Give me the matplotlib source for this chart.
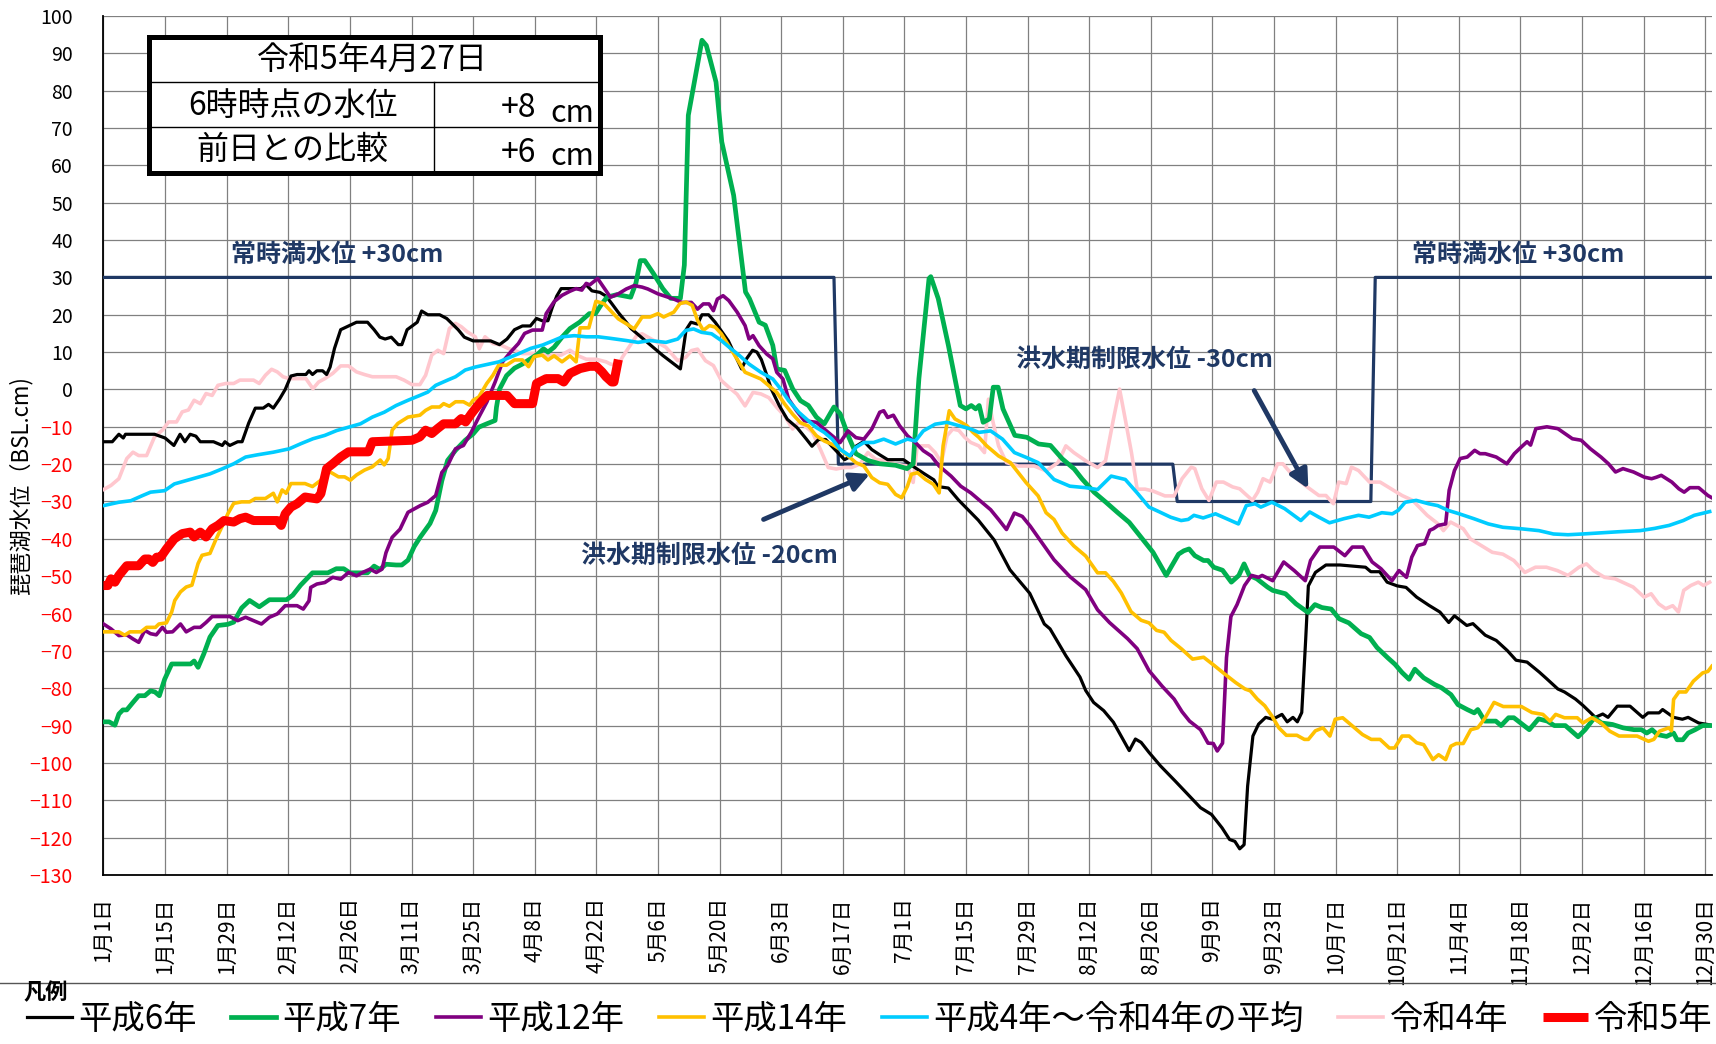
import numpy as np
import matplotlib
matplotlib.use('Agg')
import matplotlib.pyplot as plt
from matplotlib.lines import Line2D
from matplotlib.patches import Rectangle

plt.rcParams['font.family'] = ['Noto Sans CJK JP', 'DejaVu Sans']

# 日数 (1月1日 = 0) と水位 (cm)
h6_day = [0, 2, 3.5, 4.5, 5, 11.6, 14, 16, 17.4, 18.5, 19.7, 21, 22, 25, 27, 27.6, 28.7, 30.5, 31.5, 33, 34.5, 36.3, 37.5, 38.6, 40, 41.3, 42.6, 44, 46, 46.7, 47.5, 48.5, 49.8, 50.7, 51.5, 52.5, 53.9, 55.7, 57.5, 60, 61.5, 62.8, 64, 65.4, 67, 67.8, 69, 71.3, 72.3, 73.7, 76.4, 78, 79.3, 80.6, 82, 84, 88, 90, 91.7, 93.4, 95.2, 97, 98.4, 99.7, 101, 102, 103, 104, 107, 108.5, 109.7, 111, 112.8, 114.2, 115.5, 117, 118.8, 119.9, 123.5, 127.1, 131.1, 132.4, 133.5, 135, 136, 137.5, 139, 142, 145, 146, 147.5, 148.5, 149.5, 150.5, 151.8, 153.6, 155.4, 157.6, 159.8, 161, 162.5, 164.1, 165.5, 168.4, 169.8, 171, 172.8, 174.6, 176.4, 178.2, 181.8, 184, 186.3, 188.7, 189.6, 192, 194.3, 198.8, 202.4, 206, 210.5, 213.8, 215.1, 218.7, 221.9, 223.2, 225, 227.3, 229.5, 233.1, 234.5, 235.8, 237.6, 240.2, 243.5, 246.8, 249.3, 251.8, 254.2, 255.9, 257.1, 258.2, 259.2, 260, 261.2, 262.5, 264.1, 265.7, 267.8, 269, 270.3, 271.3, 272.3, 273.2, 273.8, 275.4, 277.8, 281, 286.8, 288, 290, 291.7, 294, 296, 298.4, 301.2, 303.7, 305.7, 307, 309.8, 311.2, 314, 316.5, 319, 321, 323.5, 326.3, 328, 330.5, 332, 334.5, 336.2, 337.8, 339, 340.7, 341.9, 344, 346.9, 349.8, 351, 353.5, 354.3, 356.8, 358.8, 360.1, 362.5, 365]
h6_val = [-14, -14, -12, -13, -12, -12, -13, -15, -12, -14, -12, -12.5, -14, -14, -15, -14, -15, -14, -14, -9, -5, -5, -4, -5, -2.6, 0, 3.6, 4, 4, 5, 4, 5, 5, 4, 6, 11, 16, 17, 18, 18, 16, 14, 13.5, 14, 12, 12, 16, 18, 21, 20, 20, 19, 17.5, 16, 14, 13, 13, 12, 13.5, 16, 17, 17, 19, 18.4, 18.4, 22, 25, 27, 27, 27, 28, 26.4, 26, 25, 23, 20.6, 18, 16.3, 12.7, 9.1, 5.5, 16, 18, 17.5, 20, 20, 18, 13, 5.5, 8, 10.5, 10, 8, 4.6, 0, -4.4, -8, -10.2, -13.4, -15.2, -13.4, -13.4, -15.2, -18.8, -17.9, -15.2, -13.9, -16.1, -17.5, -18.8, -18.8, -20.6, -22.4, -24.2, -26, -26.4, -29.6, -35, -40.3, -48.3, -54.6, -62.8, -64.1, -71.3, -77, -80.6, -83.8, -86, -89.1, -96.7, -93.6, -94.5, -97.2, -100.8, -104.8, -108.9, -112, -113.8, -117.4, -120.5, -121, -123, -121.9, -106.2, -92.8, -89.6, -87.8, -88.3, -87, -89, -87.8, -89, -86.5, -66.8, -52.6, -49, -47, -47, -47.6, -48.8, -48.8, -51.6, -52.6, -53, -55.6, -57.8, -59.6, -62.4, -60.6, -63.2, -62.7, -65.8, -67.2, -69.9, -72.5, -73, -75.7, -77.5, -80.2, -81, -82.9, -84.6, -86.4, -87.8, -86.9, -87.8, -84.8, -84.8, -87.8, -86.6, -86.6, -85.7, -87.8, -88.3, -87.8, -89.3, -89.8]

h7_day = [0, 1.3, 2.6, 3.5, 4.4, 5.3, 6.7, 8, 9.4, 10.7, 11.7, 12.7, 13.9, 15.5, 19.8, 20.6, 21.5, 22.8, 24.2, 26, 28.2, 29.6, 31.4, 33.2, 35.4, 37.7, 41.6, 43, 44.8, 47.5, 51, 52.9, 54.6, 56, 60, 61.5, 62.8, 64.2, 66.5, 67.8, 69.2, 70.6, 72, 74.2, 75.5, 76.9, 78.2, 80, 82.2, 84, 85.3, 87.1, 89, 89.3, 90, 91.6, 93.4, 95.2, 97, 98.7, 100, 101, 102.4, 104.2, 106, 108.2, 110.4, 111.8, 113, 114.4, 116.7, 119.8, 121, 122, 123, 125, 127.1, 128.9, 131.1, 132, 132.9, 136, 137, 137.8, 139.2, 140.5, 143.2, 145.9, 146.8, 149, 150.4, 152.1, 153, 154.8, 156.6, 158.4, 160.2, 162, 163.8, 166, 167.4, 169.2, 171, 173.7, 176.4, 180, 182.6, 184, 185.3, 187.6, 188, 189.7, 192, 194.7, 196, 197.2, 198.2, 199, 199.9, 201.3, 202.2, 203.3, 204.4, 207.1, 209.8, 212.5, 215.2, 217.9, 220.6, 222.4, 225.1, 227.8, 230.4, 233.1, 235.8, 238.5, 241.5, 244.3, 245.5, 246.7, 248, 250, 251, 252.3, 254.3, 256.3, 258, 259.2, 260.4, 262.1, 264.5, 265.7, 268.6, 271, 273.7, 275.3, 276.9, 279, 280.8, 283, 285.8, 287.7, 289.4, 291.8, 293.5, 295.1, 296.7, 298, 300, 302.5, 304.1, 306.2, 307.8, 309.9, 311.5, 312.3, 313.9, 316.4, 317.6, 319.3, 320.5, 324, 326.1, 328.1, 329.7, 332.2, 335.1, 336.7, 338.8, 340.4, 342.9, 345.3, 347.8, 349.5, 350.7, 351.9, 353.1, 355.2, 356.8, 357.6, 358.9, 360.1, 361.7, 363.4, 365.5]
h7_val = [-89, -89, -89.9, -86.9, -85.8, -85.8, -83.8, -82, -82, -80.7, -81, -82, -77.6, -73.5, -73.5, -72.7, -74.4, -70.8, -66.3, -63.2, -62.9, -62.3, -58.5, -56.5, -58.2, -56.3, -56.3, -55.1, -52.4, -49.1, -49.1, -48, -48, -49.1, -49.1, -47.3, -48.2, -46.8, -47, -47, -45.7, -42.1, -39.5, -35.9, -32.4, -24.4, -19, -16.3, -13.6, -11.9, -10.1, -9.2, -8.3, -4.8, 0.1, 3.7, 5.7, 6.8, 8.2, 9.5, 10.9, 10, 11.3, 14, 16.3, 18, 20.3, 20.3, 22.5, 24.7, 25.4, 24.7, 28.5, 34.5, 34.5, 31, 27, 24.4, 24.4, 33.3, 73.4, 93.5, 92.1, 88.6, 82.3, 66.3, 52, 26.1, 24.3, 18, 17.2, 11.8, 5.5, 5.1, 0.2, -3, -4.3, -7.4, -9.2, -4.7, -6.5, -12.3, -17.2, -19, -19.9, -20.3, -21.2, -19.9, 2.9, 29.7, 30.2, 24.3, 11.8, -4.3, -5.2, -4.3, -5.2, -4.3, -8.8, -7.9, 0.6, 0.6, -5.2, -12.3, -12.8, -14.6, -15, -18.6, -21.3, -24, -27.5, -30.2, -32.9, -35.6, -39.6, -43.6, -49.8, -44.1, -43.2, -42.7, -44.5, -45.8, -45.8, -47.6, -48.4, -51.6, -49.8, -46.7, -49.8, -50.7, -52.9, -53.8, -54.7, -57.4, -59.7, -57.6, -58.4, -58.8, -61.4, -62.5, -65.4, -66.4, -69.1, -71.8, -73.6, -75.8, -77.6, -74.9, -77.2, -79, -79.9, -81.7, -84.4, -85.7, -86.6, -85.7, -88.8, -88.8, -90, -87.9, -87.9, -91.1, -88.2, -88.8, -90, -90, -93, -91.1, -87.9, -89.3, -89.7, -90.6, -91.1, -91.1, -92, -91.1, -92.4, -92.9, -92, -93.8, -93.8, -92, -91.1, -90, -90]

h12_day = [0, 1.7, 3.5, 5.3, 6.7, 8, 9.4, 10.7, 12, 13.4, 14.3, 15.7, 17.5, 18.8, 20.6, 22, 23.3, 24.7, 28.7, 30.5, 32.3, 34.1, 35.9, 37.7, 39.5, 41.3, 44, 45.4, 46.7, 47.1, 48.5, 50.3, 52.1, 53.9, 55.7, 57.5, 58.9, 60.6, 62, 63.3, 64.2, 65.6, 67.4, 69.2, 72, 73.7, 75.5, 76.9, 78.2, 80, 81.8, 83.6, 85.3, 87.1, 89, 90.7, 92.5, 94.3, 95.7, 97.5, 99.7, 100.6, 102.4, 104.2, 106, 107.4, 108.7, 109.7, 110.5, 112.3, 113.4, 115.2, 117, 118.8, 120.6, 122.4, 123.7, 126, 127.3, 129.6, 131.4, 133.6, 135, 136.3, 137.6, 138.6, 139.5, 140.8, 142.1, 144, 145.8, 146.7, 147.6, 149, 150.7, 152.1, 153, 154.4, 155.7, 157.5, 159.3, 162, 164.7, 167.4, 169.2, 171, 172.8, 174.6, 176.4, 177.3, 178.2, 179.5, 180.9, 182.7, 184.5, 186.3, 188.1, 189.9, 192.6, 194.8, 197.1, 198.9, 201.6, 203.4, 205.2, 207, 208.8, 210.6, 213.3, 216, 219.6, 223.2, 225.9, 228.6, 232.7, 234.9, 237.6, 240.6, 243.3, 245.1, 246.8, 249.3, 251, 252.2, 253.1, 254.3, 255.2, 256.2, 257.6, 259.3, 260.9, 262.5, 263.3, 265.7, 268.2, 270.6, 273.1, 274.3, 276.4, 279.6, 282.1, 283.8, 286.2, 288.3, 290.3, 292.8, 294.4, 296.1, 297.3, 298.6, 300.2, 301.4, 302.2, 303.3, 305, 305.8, 307, 308.3, 309.9, 311.6, 312.8, 314, 316.5, 318.9, 320.6, 322.2, 323.5, 324.3, 325.5, 328, 330.5, 332.1, 333.8, 335.8, 337.9, 340.3, 342, 343.6, 345.3, 347.7, 350.2, 351.8, 352.9, 354, 356.4, 358, 359.2, 360.5, 362.5, 364.6, 365.5]
h12_val = [-62.8, -64.1, -65.9, -65.7, -66.8, -67.7, -64.5, -65.4, -65.7, -63.7, -65, -64.9, -62.8, -64.9, -63.7, -63.7, -62.4, -60.8, -60.8, -61.9, -61, -61.9, -62.8, -61, -60.1, -57.9, -57.9, -58.8, -56.6, -53, -52.1, -51.7, -50.3, -50.8, -49, -49.9, -49, -48.1, -49, -48.1, -43.7, -39.6, -37.4, -32.9, -31.1, -30.2, -28.4, -22.2, -20.4, -15.9, -15, -11.4, -7.4, -3.4, 2, 7.4, 10, 12.3, 15, 15.9, 15.9, 20.3, 23.5, 25.2, 26.3, 27, 26.6, 28.4, 28, 29.7, 27.8, 24.7, 25.6, 26.9, 27.8, 27.4, 26.9, 25.6, 25.1, 24.2, 23.3, 23.3, 21.5, 22.9, 22.9, 21.1, 24.2, 25.1, 23.8, 20.7, 17.1, 13.5, 14.4, 11.7, 9.5, 8.2, 4.6, 2.8, -2.6, -5.7, -8.4, -8.8, -11.5, -14.2, -11.1, -12.9, -13.3, -10.6, -6.1, -5.7, -7.5, -6.9, -9.7, -12.4, -14.2, -16.4, -17.8, -20.5, -23.2, -25.9, -27.7, -29.5, -32.2, -34.8, -37.5, -33.1, -34, -36.6, -41.1, -45.6, -50.1, -53.6, -59, -62.4, -66.7, -69.4, -75.3, -79.5, -82.9, -86.3, -88.8, -91.1, -94.7, -94.8, -96.8, -94.7, -71.8, -60.8, -57.6, -52.5, -49.8, -50.3, -49.8, -51.2, -46.2, -48.5, -51.2, -45.8, -42.2, -42.2, -44.5, -42.2, -42.2, -46.2, -48, -51.2, -48.5, -50.3, -44.9, -41.8, -41.3, -37.7, -37.3, -36.4, -36, -27, -21.7, -18.5, -18.1, -16.3, -17.2, -17.2, -18.1, -19.9, -17.2, -15.4, -14, -14.9, -10.5, -10, -10.5, -11.8, -13.2, -13.6, -15.9, -18.1, -19.9, -22.1, -21.2, -22.1, -23.5, -23.9, -23.5, -23, -24.8, -26.6, -27.5, -26.3, -26.3, -28.4, -29]

h14_day = [0, 3.5, 4.8, 6, 8.5, 9.8, 11.8, 12.6, 14.3, 15.5, 16.2, 17.5, 18.8, 20.1, 21.5, 22.4, 24.2, 25.5, 26.9, 28.3, 29.6, 31.4, 33.2, 34.5, 36.8, 38.6, 39.5, 40.6, 41.5, 42.6, 45.8, 47.5, 49.4, 50.7, 52.1, 53.4, 54.8, 56.1, 57.5, 59.3, 61.1, 62.9, 63.8, 64.7, 65.6, 66.9, 69.2, 71.9, 73.2, 74.6, 76.4, 77.3, 78.6, 80, 81.8, 83.2, 84, 85.3, 87.1, 88.5, 89.8, 91.6, 93.4, 95.2, 96.6, 97.9, 99.7, 101, 102.4, 104.2, 106, 107.4, 108.3, 110.3, 111.9, 113.7, 115.3, 117, 118.8, 120.6, 122.4, 124.2, 126, 127.3, 129.6, 131, 132.4, 133.8, 135, 136.3, 137.7, 139, 140.4, 142.1, 144, 145.8, 147.6, 149.4, 151.2, 153, 154.8, 156.6, 158.4, 160.2, 162, 163.8, 165.6, 167.4, 169.2, 171, 172.8, 174.6, 176.4, 178.2, 180, 181.4, 182.7, 183.6, 185, 186.8, 188.6, 189.9, 190.8, 192.2, 193.5, 194.9, 196.2, 197.6, 198.9, 200.7, 203.4, 206.1, 207.9, 209.7, 212.4, 214.2, 216, 217.8, 220.5, 223.2, 225.9, 227.7, 229.5, 231.3, 233.5, 235.8, 237.6, 239.3, 241, 242.6, 245, 247.5, 250, 252.4, 254.8, 257.3, 259.4, 260.6, 262.2, 263.9, 265.5, 267.1, 268.8, 271.2, 272.9, 273.8, 275.4, 277.1, 278.7, 279.9, 281.6, 283.6, 286.1, 288.1, 290.1, 292.2, 293.4, 295.1, 296.7, 298.4, 300, 302.1, 303.4, 305, 306.2, 307.4, 309, 310.7, 312.3, 314, 316, 318.1, 322.2, 324.6, 327.1, 328.7, 330, 332, 334.9, 336.2, 338.2, 340.3, 342.3, 344.4, 346.9, 348.5, 351.1, 352.3, 353.6, 355.7, 356.3, 356.8, 358, 359.6, 361.3, 363.4, 364.6, 365.5]
h14_val = [-64.9, -64.9, -65.8, -64.9, -64.9, -63.7, -63.7, -62.8, -62.5, -59.6, -56.5, -54.2, -52.9, -52.4, -46.6, -44.4, -43.9, -40.3, -36.8, -33.2, -30.5, -30.1, -30.1, -29.2, -29.2, -27.8, -30.1, -26.9, -27.8, -25.2, -25.2, -26, -24.3, -21.6, -22.5, -23.4, -23.4, -24.3, -22.9, -21.6, -20.7, -18.9, -20.2, -18.5, -10.9, -9.1, -7.4, -6.9, -5.6, -4.7, -4.7, -3.8, -4.5, -3.3, -3.3, -4.2, -2.9, -2, 1.6, 3.8, 6.5, 6.5, 7.9, 7.9, 6.1, 8.8, 9.2, 7.9, 9, 7.4, 9, 7.4, 16.5, 16.5, 23.6, 23, 21, 18.9, 17.6, 16.2, 19.4, 19.4, 20.3, 19.4, 20.7, 23, 23.4, 22.5, 18.5, 15.8, 17.1, 16.7, 14.9, 11.7, 8.1, 4.6, 3.7, 2.8, 1, -0.8, -3.9, -6.6, -8.9, -9.8, -12.4, -13.8, -14.7, -16, -17.8, -19.6, -20.5, -23.6, -25, -25.4, -28.1, -29, -25.9, -22.7, -22.3, -24.1, -25.4, -27.7, -15.1, -5.7, -7.9, -8.8, -9.7, -11.5, -12.8, -15.1, -17.8, -19.6, -22.3, -25, -28.5, -33, -34.8, -38.4, -41.9, -44.6, -49.1, -49.1, -51.4, -54.5, -59.5, -61.8, -62.5, -64.5, -65, -67.2, -69.5, -72.2, -71.7, -73.9, -76.2, -78.5, -80.2, -80.7, -82.9, -84.7, -87.4, -90.6, -92.6, -92.6, -93.7, -93.7, -91.4, -90.6, -92.8, -88.3, -87.9, -89.9, -92.4, -93.7, -93.7, -96, -96, -92.8, -92.8, -94.6, -95.1, -99.1, -97.8, -99.1, -95.5, -94.8, -94.8, -91.1, -90.6, -87.9, -83.8, -84.9, -84.9, -86.5, -87, -88.8, -87, -87.9, -87.9, -89.3, -87.9, -89.3, -91.5, -92.8, -92.8, -92.8, -94.2, -93.7, -91.5, -90.6, -91.4, -83, -81, -81, -78.1, -75.9, -75.5, -74.1]

avg_day = [0, 3.5, 6.2, 8.9, 10.7, 13.9, 16.1, 18.8, 21.5, 24.2, 26.9, 29.6, 32.3, 35, 38.6, 42.2, 44.9, 47.6, 50.3, 53, 55.7, 58.4, 61.1, 63.8, 66.5, 69.2, 71.9, 73.7, 75.5, 78.2, 80, 82.2, 84.5, 87.2, 89.9, 91.7, 94.4, 97.1, 99.8, 102.5, 104.3, 107, 109.7, 112.4, 115.1, 118.8, 121.5, 124.2, 127.8, 130.5, 132.3, 134.1, 135.9, 138.2, 140.4, 142.2, 144.5, 146.7, 149.4, 152.1, 153.9, 155.7, 158, 160.2, 162, 163.8, 165.6, 167.4, 169.6, 171, 172.8, 175, 177.3, 180, 182.7, 184.5, 186.3, 189, 191.7, 194.4, 197.1, 198.9, 201.6, 204.3, 207, 209.7, 212.4, 216, 219.6, 223.2, 225.9, 229, 232.2, 234.9, 237.6, 240, 242.5, 244.9, 246.5, 247.8, 249.9, 252.7, 255.2, 257.9, 259.7, 261.7, 263, 265.5, 268.4, 272.1, 274.1, 276.2, 278.6, 281.9, 285.2, 287.6, 290.5, 292.9, 294.2, 295.8, 298.3, 301.1, 303.2, 305.6, 308.1, 311.4, 314.7, 318, 322.1, 326.2, 329.5, 332.8, 336.1, 340.2, 344.3, 349.2, 352.5, 355.8, 359, 361.5, 365]
avg_val = [-31.1, -30.2, -29.8, -28.4, -27.5, -27.1, -25.3, -24.4, -23.5, -22.6, -21.3, -19.9, -18.1, -17.5, -16.8, -15.9, -14.5, -13.2, -12.3, -11, -10.1, -9.2, -7.4, -6.1, -4.3, -2.9, -1.6, -0.7, 1.1, 2.5, 3.4, 5.2, 6, 6.7, 7.4, 8.3, 9.6, 11, 11.9, 13.2, 14.1, 14.4, 14.1, 14.1, 13.7, 13.1, 12.6, 13.1, 12.6, 13.5, 15.8, 16.2, 15.3, 14.9, 13.1, 11.3, 9.1, 6.8, 4.6, 2.8, 0.1, -3, -6.1, -8.4, -10.2, -11.5, -13.3, -16, -17.8, -15.5, -14.2, -14.2, -13.3, -14.6, -13.3, -13.8, -11.1, -9.3, -8.8, -9.7, -10.6, -11.5, -11.1, -13.3, -16.9, -18.2, -19.6, -24.1, -25.9, -26.3, -26.8, -23.2, -24.1, -27.7, -31.5, -32.8, -34.2, -35.1, -34.8, -33.7, -34.4, -33.3, -34.6, -36, -31.1, -30.6, -31.5, -30.2, -31.9, -35.1, -32.8, -34.2, -35.7, -34.6, -33.7, -34.2, -33, -33.3, -32.4, -30.2, -29.7, -30.6, -31.1, -32.4, -33.3, -34.6, -36, -36.9, -37.3, -37.8, -38.7, -38.9, -38.7, -38.4, -38.1, -37.8, -37.2, -36.4, -35.1, -33.7, -32.7]

r4_day = [0, 1.7, 3.5, 5.3, 6.7, 8, 9.8, 11.6, 13.4, 14.8, 16.6, 17.9, 19.3, 20.6, 22, 23.3, 24.7, 26, 27.8, 29.6, 31, 34.1, 35.4, 36.8, 38.2, 39.5, 40.8, 42.2, 46, 47.6, 48.9, 50.3, 52.1, 53.9, 55.7, 57.5, 59.3, 61.1, 66.5, 68.3, 70.1, 71.9, 73.2, 74.6, 76, 77.3, 78.6, 80, 81.3, 82.7, 84.5, 85.4, 86.7, 88.5, 90.3, 92.1, 93.4, 95.2, 97.5, 99.7, 104, 106, 107.9, 109.7, 111.9, 114.2, 115.2, 117, 117.9, 119.7, 121.2, 122.4, 125.1, 127.8, 130.5, 132.3, 133.6, 135, 136.8, 138.6, 140.4, 142.2, 144, 145.8, 147.6, 149.4, 151.2, 153, 154.8, 156.6, 158, 159.3, 161.1, 162.9, 164.7, 166.5, 168.3, 170, 171.9, 173.7, 175.5, 177.7, 180, 182.7, 184, 184.9, 187.5, 189, 190.4, 191.7, 193, 194.4, 195.7, 197.1, 198.9, 200.2, 201.1, 202, 203.4, 205.2, 207.9, 211.5, 214.2, 216.9, 218.7, 220.5, 223.2, 225.9, 227.7, 229.5, 230.9, 232.2, 233.6, 234.9, 236.7, 238.5, 241.2, 243.3, 245.1, 247.2, 248, 249.6, 251.2, 252.9, 254.5, 256.6, 258.2, 259.4, 261.1, 262.3, 263.5, 265.1, 266.8, 268, 269.6, 272.1, 274.1, 276.2, 277.8, 279.5, 280.7, 282.4, 283.6, 285.2, 287.7, 290.1, 292.6, 295.1, 297.5, 300.8, 303.3, 304.5, 306.1, 309, 310.6, 313.1, 315.6, 318, 320.5, 323, 325.4, 327.9, 330.4, 332.8, 335.3, 337, 338.6, 341.1, 343.5, 345.2, 347.6, 350.1, 351.7, 353.4, 355, 356.6, 357.9, 359.1, 360.7, 362.4, 363.6, 365]
r4_val = [-26.8, -25.7, -23.9, -18.5, -16.8, -17.7, -17.7, -12.7, -10.9, -8.7, -8.7, -6, -5.5, -2.9, -3.8, -1.1, -1.6, 1.1, 1.6, 1.6, 2.5, 2.5, 1.6, 3.8, 5.4, 4.7, 3.4, 2.9, 2.9, 0.2, 2, 2.9, 4.3, 6.3, 6.3, 4.7, 4, 3.4, 3.4, 2.5, 1.3, 1.3, 3.8, 9.2, 10.5, 9.6, 16.3, 17.7, 16.8, 15.4, 14.1, 10.9, 14.1, 12.3, 11.9, 10.9, 10.5, 9.6, 9.6, 9.2, 9.2, 10.5, 9, 8.1, 8.1, 7.4, 6.8, 6.4, 8.6, 11.8, 14.5, 14.9, 13.1, 11.3, 7.7, 8.6, 10.4, 10.8, 7.7, 6.4, 2.4, 0.5, -1.3, -4.4, -0.8, -1.2, -2.2, -4.8, -7.1, -10.6, -8.8, -9.7, -11.5, -16, -20.9, -21.3, -20.9, -20.9, -20, -16.9, -18.7, -19.1, -20, -20.5, -24.9, -15.1, -15.1, -16.9, -19.6, -12.4, -10.6, -11, -12.8, -14.2, -15.1, -16.9, -2.6, -8, -15.1, -19.6, -20.5, -20.5, -21.8, -19.6, -15.1, -16.9, -19.1, -20.9, -19.1, -8, 0.1, -8, -16.9, -26.7, -26.7, -27.2, -28.5, -28.5, -23.9, -20.8, -21.2, -26.6, -29.7, -24.8, -24.8, -26.1, -26.6, -27.9, -29.7, -27.5, -23.9, -24.8, -19.9, -19.9, -22.1, -24.8, -26.6, -28.4, -28.4, -30.6, -24.8, -25.2, -20.8, -21.7, -24.8, -24.8, -26.6, -28.4, -29.7, -33.7, -36, -37.8, -35.5, -37.3, -40, -41.8, -43.6, -44.1, -45.8, -49, -47.6, -47.6, -48.5, -49.8, -47.6, -46.7, -48.5, -50.3, -50.7, -51.6, -52.9, -55.6, -54.7, -57.4, -58.7, -57.9, -59.6, -53.8, -52.5, -51.6, -52.5, -51.6]

r5_day = [0, 1, 1.7, 2.6, 3.5, 5.3, 8, 9.4, 10.3, 11.2, 12.1, 13, 14.3, 16.1, 17.9, 19.7, 20.6, 22, 23.3, 24.7, 26, 27.4, 29.6, 31, 32.3, 34.1, 39.5, 40.4, 41.3, 42.6, 44, 45.8, 48.5, 49.4, 50.7, 52.1, 53.9, 55.7, 60.2, 61.1, 70.1, 71.9, 73.2, 74.6, 75.9, 77.3, 80, 81.3, 82.3, 83.6, 85.4, 87.2, 91.7, 93.4, 97.5, 98.4, 100.6, 103.3, 104.6, 106, 108.3, 110.5, 112, 113.3, 114.2, 115.5, 116, 117]
r5_val = [-52.5, -52.5, -50.7, -51.6, -49.8, -47.2, -47.2, -45.4, -45.4, -46.3, -44.9, -44.9, -42.7, -40, -38.6, -38.2, -39.5, -38.2, -39.5, -37.3, -36.4, -35.1, -35.5, -34.6, -34.2, -35.1, -35.1, -36.4, -33.3, -31.5, -30.6, -28.8, -29.3, -27.9, -21.2, -19.9, -18.1, -16.7, -16.7, -14, -13.6, -12.7, -10.9, -11.8, -10.5, -9.2, -9.2, -7.8, -8.7, -6.5, -3.8, -1.6, -1.6, -3.8, -3.8, 1.6, 2.9, 2.9, 2, 4.3, 5.6, 6.2, 6.2, 4.7, 3.4, 2, 2, 8]

# 常時満水位・洪水期制限水位
lim_day = [0, 166, 167, 243, 244, 288, 289, 365.5]
lim_val = [30, 30, -20, -20, -30, -30, 30, 30]

tick_labels = ['1月1日', '1月15日', '1月29日', '2月12日', '2月26日', '3月11日', '3月25日',
               '4月8日', '4月22日', '5月6日', '5月20日', '6月3日', '6月17日', '7月1日',
               '7月15日', '7月29日', '8月12日', '8月26日', '9月9日', '9月23日', '10月7日',
               '10月21日', '11月4日', '11月18日', '12月2日', '12月16日', '12月30日']

navy = '#1F3864'

fig = plt.figure(figsize=(17.16, 10.44), dpi=100)
ax = fig.add_axes([0.0603, 0.1619, 0.9373, 0.8228])

ax.plot(lim_day, lim_val, color=navy, lw=2.3, zorder=3)
ax.plot(h6_day, h6_val, color='black', lw=2.3, label='平成6年', zorder=4)
ax.plot(h7_day, h7_val, color='#00B050', lw=3.4, label='平成7年', zorder=4)
ax.plot(h12_day, h12_val, color='#800080', lw=2.6, label='平成12年', zorder=4)
ax.plot(h14_day, h14_val, color='#FFC000', lw=2.6, label='平成14年', zorder=4)
ax.plot(avg_day, avg_val, color='#00CCFF', lw=2.6, label='平成4年～令和4年の平均', zorder=4)
ax.plot(r4_day, r4_val, color='#FFC7CE', lw=2.6, label='令和4年', zorder=3.5)
ax.plot(r5_day, r5_val, color='#FF0000', lw=6.5, label='令和5年', zorder=5,
        solid_capstyle='butt')

ax.set_xlim(0, 365.5)
ax.set_ylim(-130, 100)
ax.set_xticks(np.arange(0, 365, 14))
ax.set_xticklabels(tick_labels, rotation=90, fontsize=15, va='top')
ax.set_yticks(np.arange(-130, 101, 10))
ax.tick_params(axis='both', length=0)
ax.tick_params(axis='y', labelsize=14, pad=22)
ax.tick_params(axis='x', pad=16)
for t, v in zip(ax.get_yticklabels(), np.arange(-130, 101, 10)):
    t.set_color('red' if v < 0 else 'black')

ax.grid(True, color='#808080', lw=0.9, zorder=0)
ax.set_axisbelow(True)
ax.spines['top'].set_visible(False)
ax.spines['right'].set_visible(False)
ax.spines['left'].set_linewidth(1.3)
ax.spines['bottom'].set_linewidth(1.3)

ax.set_ylabel('琵琶湖水位（BSL.cm)', fontsize=16)
ax.yaxis.set_label_coords(-0.044, 0.454)

# 注記
fs_note = 18
ax.text(53, 36, '常時満水位 +30cm', color=navy, fontsize=fs_note, fontweight='bold',
        ha='center', va='center')
ax.text(321.4, 36, '常時満水位 +30cm', color=navy, fontsize=fs_note, fontweight='bold',
        ha='center', va='center')
ax.text(236.5, 7.8, '洪水期制限水位 -30cm', color=navy, fontsize=fs_note, fontweight='bold',
        ha='center', va='center')
ax.text(137.8, -44.7, '洪水期制限水位 -20cm', color=navy, fontsize=fs_note, fontweight='bold',
        ha='center', va='center')
arrow = dict(arrowstyle='-|>', color=navy, lw=3.5, mutation_scale=28, shrinkA=0, shrinkB=0)
ax.annotate('', xy=(273.8, -26.6), xytext=(261.5, -0.3), arrowprops=arrow, zorder=6)
ax.annotate('', xy=(174.2, -22.6), xytext=(150, -34.8), arrowprops=arrow, zorder=6)

# 今日の水位の表
x0, x1, xm = 0.0871, 0.3497, 0.2527
y0, y1, ya, yb = 0.8346, 0.9648, 0.9217, 0.8786
fig.add_artist(Rectangle((x0, y0), x1 - x0, y1 - y0, transform=fig.transFigure,
                         facecolor='white', edgecolor='black', lw=3.6, zorder=10))
for yy in (ya, yb):
    fig.add_artist(Line2D([x0, x1], [yy, yy], color='black', lw=1, zorder=11))
fig.add_artist(Line2D([xm, xm], [y0, ya], color='black', lw=1, zorder=11))
fig.text(0.2168, 0.9415, '令和5年4月27日', fontsize=23, ha='center', va='center', zorder=12)
fig.text(0.1705, 0.8985, '6時時点の水位', fontsize=23, ha='center', va='center', zorder=12)
fig.text(0.1705, 0.8565, '前日との比較', fontsize=23, ha='center', va='center', zorder=12)
fig.text(0.3124, 0.8879, '+8', fontsize=23, ha='right', va='baseline', zorder=12)
fig.text(0.3205, 0.8834, 'cm', fontsize=22, ha='left', va='baseline', zorder=12)
fig.text(0.3124, 0.8448, '+6', fontsize=23, ha='right', va='baseline', zorder=12)
fig.text(0.3205, 0.8420, 'cm', fontsize=22, ha='left', va='baseline', zorder=12)

# 凡例
fig.add_artist(Line2D([0, 1], [0.0584, 0.0584], color='#555555', lw=1))
fig.text(0.0134, 0.049, '凡例', fontsize=16, fontweight='bold', ha='left', va='center')
fig.legend(loc='center left', bbox_to_anchor=(0.0157, 0.0235), ncol=7, frameon=False,
           fontsize=24, borderpad=0, borderaxespad=0, handlelength=1.35,
           handletextpad=0.18, columnspacing=1.05)

fig.savefig('out.png', dpi=100)
